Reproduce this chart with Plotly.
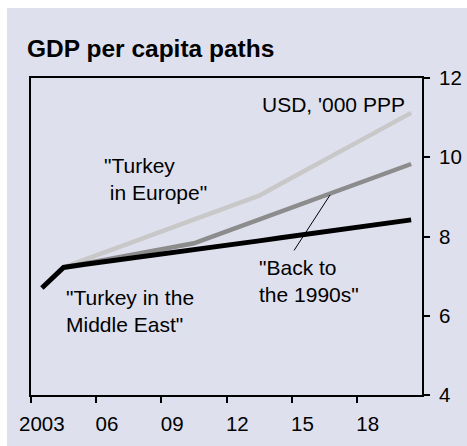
import plotly.graph_objects as go

# ---- data (GDP per capita, USD '000 PPP) ----
years = list(range(2003, 2021))
middle_east = [6.70, 7.22, 7.30, 7.37, 7.45, 7.52, 7.60, 7.67, 7.75, 7.82,
               7.89, 7.97, 8.04, 8.12, 8.19, 8.27, 8.34, 8.42]
back_1990s = [None, 7.22, 7.32, 7.42, 7.52, 7.63, 7.73, 7.83, 8.03, 8.23,
              8.43, 8.63, 8.83, 9.03, 9.23, 9.43, 9.63, 9.83]
europe = [None, 7.22, 7.42, 7.62, 7.82, 8.02, 8.23, 8.43, 8.63, 8.83,
          9.03, 9.33, 9.63, 9.93, 10.22, 10.52, 10.82, 11.12]
tick_years = [2003, 2006, 2009, 2012, 2015, 2018]
tick_labels = ["2003", "06", "09", "12", "15", "18"]
y_ticks = [4, 6, 8, 10, 12]

BG = "#dfe0ee"
FONT = "Liberation Sans, Arial, sans-serif"

fig = go.Figure()
fig.add_trace(go.Scatter(x=years, y=europe, mode="lines",
                         line=dict(color="#c8c8c8", width=4.5), name="Turkey in Europe"))
fig.add_trace(go.Scatter(x=years, y=back_1990s, mode="lines",
                         line=dict(color="#8c8c8c", width=4.5), name="Back to the 1990s"))
fig.add_trace(go.Scatter(x=years, y=middle_east, mode="lines",
                         line=dict(color="#000000", width=5), name="Turkey in the Middle East"))

W, H = 467, 446
L, R, T, B = 31, 45, 78, 51
pw, ph = W - L - R, H - T - B

def px2x(px):
    return (px - L) / pw

def px2y(py):
    return (H - B - py) / ph

annots = [
    dict(text="USD, '000 PPP", x=px2x(407), y=px2y(104), xanchor="right", yanchor="middle",
         align="right"),
    dict(text='"Turkey<br>&nbsp;in Europe"', x=px2x(102), y=px2y(179), xanchor="left",
         yanchor="middle", align="left"),
    dict(text='"Back to<br>the 1990s"', x=px2x(257), y=px2y(281), xanchor="left",
         yanchor="middle", align="left"),
    dict(text='"Turkey in the<br>Middle East"', x=px2x(64), y=px2y(311), xanchor="left",
         yanchor="middle", align="left"),
]
annotations = []
for a in annots:
    a.update(xref="paper", yref="paper", showarrow=False,
             font=dict(family=FONT, size=21, color="black"))
    annotations.append(a)

# leader line for "Back to the 1990s"
annotations.append(dict(x=2016.27, y=9.05, xref="x", yref="y", text="",
                        showarrow=True, arrowhead=0, arrowwidth=1, arrowcolor="black",
                        ax=-37, ay=57, standoff=0, startstandoff=0))

fig.update_layout(
    width=W, height=H,
    margin=dict(l=L, r=R, t=T, b=B, pad=0, autoexpand=False),
    paper_bgcolor=BG, plot_bgcolor=BG,
    showlegend=False,
    font=dict(family=FONT, size=20, color="black"),
    title=dict(text="<b>GDP per capita paths</b>", x=27 / W, xanchor="left",
               y=1 - 48 / H, yanchor="middle",
               font=dict(family=FONT, size=24.5, color="black")),
    annotations=annotations,
    shapes=[
        dict(type="rect", xref="paper", yref="paper", layer="below",
             x0=px2x(-5), x1=px2x(W + 5), y0=px2y(0) + 0.5, y1=px2y(8),
             fillcolor="white", line=dict(width=0)),
        dict(type="rect", xref="paper", yref="paper", layer="below",
             x0=px2x(-5), x1=px2x(7), y0=px2y(H + 5), y1=px2y(-5),
             fillcolor="white", line=dict(width=0)),
    ],
)

fig.update_xaxes(
    range=[2002.5, 2020.5], tickvals=tick_years, ticktext=tick_labels,
    ticks="", showgrid=False, zeroline=False, automargin=False,
    showline=True, linewidth=2, linecolor="black", mirror=True,
    ticklabelstandoff=9,
    tickfont=dict(family=FONT, size=20.5, color="black"),
    minor=dict(tickvals=[y - 0.5 for y in tick_years], ticks="outside", ticklen=6,
               tickwidth=2, tickcolor="black", showgrid=False),
)
fig.update_yaxes(
    range=[4, 12], tickvals=y_ticks, side="right", automargin=False,
    ticks="outside", ticklen=6, tickwidth=2, tickcolor="black",
    showgrid=False, zeroline=False,
    showline=True, linewidth=2, linecolor="black", mirror=True,
    ticklabelstandoff=5,
    tickfont=dict(family=FONT, size=20.5, color="black"),
)

fig.write_html("out.html")
